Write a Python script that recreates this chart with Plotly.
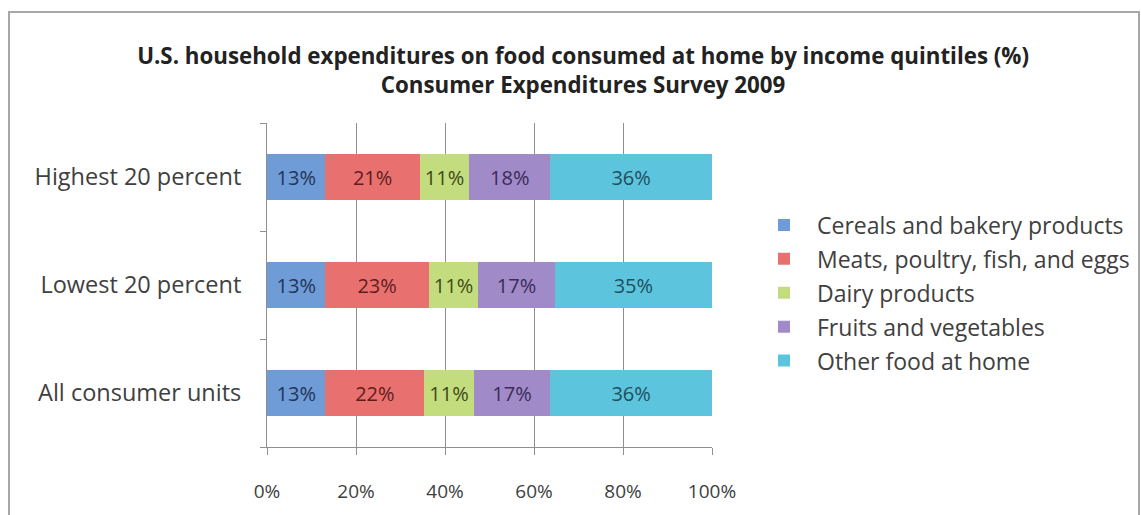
import plotly.graph_objects as go

# Income groups, listed bottom to top as they appear on the axis
groups = ["All consumer units", "Lowest 20 percent", "Highest 20 percent"]

# Share of food-at-home spending (%) per category, same order as groups
cereals = [13, 13, 13]
meats = [22, 23, 21]
dairy = [11, 11, 11]
fruits_veg = [17, 17, 18]
other_food = [36, 35, 36]

series_names = [
    "Cereals and bakery products",
    "Meats, poultry, fish, and eggs",
    "Dairy products",
    "Fruits and vegetables",
    "Other food at home",
]
series_values = [cereals, meats, dairy, fruits_veg, other_food]
bar_colors = ["#6f9bd6", "#e8716f", "#c3dd7e", "#a08ac7", "#5dc4de"]
label_colors = ["#1e3557", "#5e1d1c", "#3d4a18", "#3b2a5a", "#1d4f5c"]

x_ticks = [0, 20, 40, 60, 80, 100]
x_tick_text = ["0%", "20%", "40%", "60%", "80%", "100%"]

FONT = "Open Sans"

fig = go.Figure()
for i, (name, vals) in enumerate(zip(series_names, series_values)):
    fig.add_trace(go.Bar(
        y=groups,
        x=vals,
        name=name,
        orientation="h",
        legendgroup=name,
        marker=dict(color=bar_colors[i], line=dict(width=0)),
        text=[f"{v}%" for v in vals],
        textposition="inside",
        insidetextanchor="middle",
        constraintext="none",
        textfont=dict(family=FONT, size=20, color=label_colors[i]),
    ))

W, H = 1141, 515
L, R, T, B = 267, 429, 123, 68
pw = W - L - R
ph = H - T - B


def px_x(px):
    return (px - L) / pw


def px_y(py):
    return (H - B - py) / ph


fig.update_layout(
    width=W,
    height=H,
    margin=dict(l=L, r=R, t=T, b=B, pad=0, autoexpand=False),
    barmode="stack",
    barnorm="percent",
    bargap=0.57,
    paper_bgcolor="white",
    plot_bgcolor="white",
    font=dict(family=FONT, size=18, color="#404040"),
    title=dict(
        text="U.S. household expenditures on food consumed at home by income quintiles (%)"
             "<br>Consumer Expenditures Survey 2009",
        x=0.511,
        xanchor="center",
        y=1 - 64 / H,
        yanchor="middle",
        font=dict(family=FONT, size=22.3, color="#222222", weight="bold"),
    ),
    legend=dict(
        x=px_x(751),
        xanchor="left",
        y=px_y(293),
        yanchor="middle",
        traceorder="grouped",
        tracegroupgap=1,
        itemwidth=56,
        font=dict(family=FONT, size=23, color="#404040"),
        bgcolor="rgba(0,0,0,0)",
    ),
    xaxis=dict(
        range=[0, 100],
        tickvals=x_ticks,
        ticktext=x_tick_text,
        showgrid=True,
        gridcolor="#8f8f8f",
        gridwidth=1,
        showline=True,
        linecolor="#8f8f8f",
        linewidth=1,
        ticks="outside",
        ticklen=7,
        tickcolor="#8f8f8f",
        ticklabelstandoff=20,
        zeroline=False,
        tickfont=dict(family=FONT, size=19, color="#404040"),
        fixedrange=True,
    ),
    yaxis=dict(
        type="category",
        categoryorder="array",
        categoryarray=groups,
        showgrid=False,
        showline=True,
        linecolor="#8f8f8f",
        linewidth=1,
        ticks="outside",
        tickson="boundaries",
        ticklen=6,
        tickcolor="#8f8f8f",
        ticklabelstandoff=20,
        tickfont=dict(family=FONT, size=23.5, color="#404040"),
        fixedrange=True,
    ),
    shapes=[
        dict(
            type="rect",
            xref="paper",
            yref="paper",
            x0=px_x(9),
            x1=px_x(1139),
            y0=px_y(540),
            y1=px_y(12),
            line=dict(color="#a8a8a8", width=2),
            fillcolor="rgba(0,0,0,0)",
            layer="below",
        )
    ],
)

fig.write_html("out.html")
